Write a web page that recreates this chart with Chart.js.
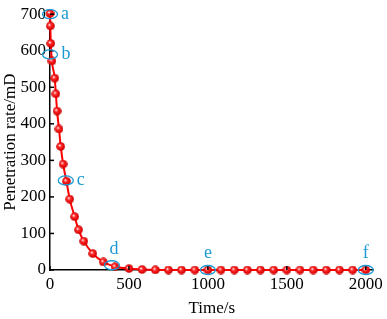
<!DOCTYPE html>
<html>
<head>
<meta charset="utf-8">
<script src="https://cdn.jsdelivr.net/npm/chart.js@4/dist/chart.umd.min.js"></script>
<style>
  html, body { margin: 0; padding: 0; background: #fff; }
  #wrap { width: 387px; height: 319px; position: relative; }
</style>
</head>
<body>
<div id="wrap"><canvas id="ch_pen"></canvas></div>
<script>
// Time (s) and penetration rate (mD)
const times = [0, 2, 5, 12, 30, 37, 45, 57, 68, 83, 104, 125, 156, 181, 214, 271, 338, 412,
  500, 583, 667, 750, 833, 917, 1000, 1083, 1167, 1250, 1333, 1417, 1500, 1583, 1667, 1750, 1833, 1917, 2000];
const rates = [702, 668, 620, 572, 525, 482, 435, 386, 338, 290, 243, 194, 146, 110, 79, 45, 22, 9,
  4, 1.5, 0.5, 0, 0, 0, 0, 0, 0, 0, 0, 0, 0, 0, 0, 0, 0, 0, 0];

// Circled stages a-f
const markLabels = ['a', 'b', 'c', 'd', 'e', 'f'];
const markTimes  = [0, 0, 100, 392, 1000, 2000];
const markRates  = [700, 590, 245, 13, 0, 0];

const xTicks = [0, 500, 1000, 1500, 2000];
const yTicks = [0, 100, 200, 300, 400, 500, 600, 700];

const SERIF = '"Liberation Serif", "Times New Roman", serif';
const BLUE = '#1b9ad6';

// little shaded red ball for the markers
function sphere() {
  const c = document.createElement('canvas');
  c.width = 9; c.height = 9;
  const g = c.getContext('2d');
  const grd = g.createRadialGradient(3.3, 3.3, 0.3, 4.5, 4.5, 4.5);
  grd.addColorStop(0, '#ffffff');
  grd.addColorStop(0.3, '#ff3030');
  grd.addColorStop(0.8, '#e00000');
  grd.addColorStop(1, '#b00000');
  g.fillStyle = grd;
  g.beginPath(); g.arc(4.5, 4.5, 4.3, 0, Math.PI * 2); g.fill();
  return c;
}

// inward tick marks on both axes
const innerTicks = {
  id: 'innerTicks',
  afterDatasetsDraw(chart) {
    const { ctx, scales: { x, y } } = chart;
    ctx.save();
    ctx.strokeStyle = '#000'; ctx.lineWidth = 1.5;
    xTicks.forEach(v => {
      const px = x.getPixelForValue(v);
      ctx.beginPath(); ctx.moveTo(px, y.bottom); ctx.lineTo(px, y.bottom - 4); ctx.stroke();
    });
    yTicks.forEach(v => {
      const py = y.getPixelForValue(v);
      ctx.beginPath(); ctx.moveTo(x.left, py); ctx.lineTo(x.left + 4, py); ctx.stroke();
    });
    ctx.restore();
  }
};

// blue ellipses + letters
const stageMarks = {
  id: 'stageMarks',
  afterDatasetsDraw(chart) {
    const { ctx, scales: { x, y } } = chart;
    const off = { a: [15, 0], b: [16, 0], c: [15, 0], d: [2, -16], e: [0, -17], f: [0, -17] };
    ctx.save();
    ctx.strokeStyle = BLUE; ctx.fillStyle = BLUE; ctx.lineWidth = 1.3;
    ctx.font = '18px ' + SERIF;
    ctx.textAlign = 'center'; ctx.textBaseline = 'middle';
    markLabels.forEach((lab, i) => {
      const px = x.getPixelForValue(markTimes[i]);
      const py = y.getPixelForValue(markRates[i]);
      ctx.beginPath(); ctx.ellipse(px, py, 7.5, 4.5, 0, 0, Math.PI * 2); ctx.stroke();
      ctx.fillText(lab, px + off[lab][0], py + off[lab][1]);
    });
    ctx.restore();
  }
};

new Chart(document.getElementById('ch_pen').getContext('2d'), {
  type: 'line',
  data: {
    datasets: [{
      data: times.map((t, i) => ({ x: t, y: rates[i] })),
      borderColor: '#ff0000',
      borderWidth: 2,
      pointStyle: sphere(),
      pointRadius: 4.5,
      cubicInterpolationMode: 'monotone',
      clip: false
    }]
  },
  options: {
    responsive: true,
    maintainAspectRatio: false,
    animation: false,
    layout: { padding: { top: 8, right: 9, left: 0, bottom: 0 } },
    plugins: { legend: { display: false }, tooltip: { enabled: false } },
    scales: {
      x: {
        type: 'linear', min: 0, max: 2050,
        afterBuildTicks: s => { s.ticks = xTicks.map(v => ({ value: v })); },
        afterFit: s => { s.height = 49; },
        grid: { display: false, drawTicks: false },
        border: { color: '#000', width: 1.5 },
        ticks: { color: '#000', font: { family: SERIF, size: 17 }, padding: 4, maxRotation: 0, callback: v => String(v) },
        title: { display: true, text: 'Time/s', color: '#000', font: { family: SERIF, size: 17 }, padding: { top: 6, bottom: 0 } }
      },
      y: {
        min: 0, max: 700,
        afterBuildTicks: s => { s.ticks = yTicks.map(v => ({ value: v })); },
        afterFit: s => { s.width = 50; },
        grid: { display: false, drawTicks: false },
        border: { color: '#000', width: 1.5 },
        ticks: { color: '#000', font: { family: SERIF, size: 17 }, padding: 4, callback: v => String(v) },
        title: { display: true, text: 'Penetration rate/mD', color: '#000', font: { family: SERIF, size: 17 }, padding: { top: 0, bottom: 0 } }
      }
    }
  },
  plugins: [innerTicks, stageMarks]
});
</script>
</body>
</html>
